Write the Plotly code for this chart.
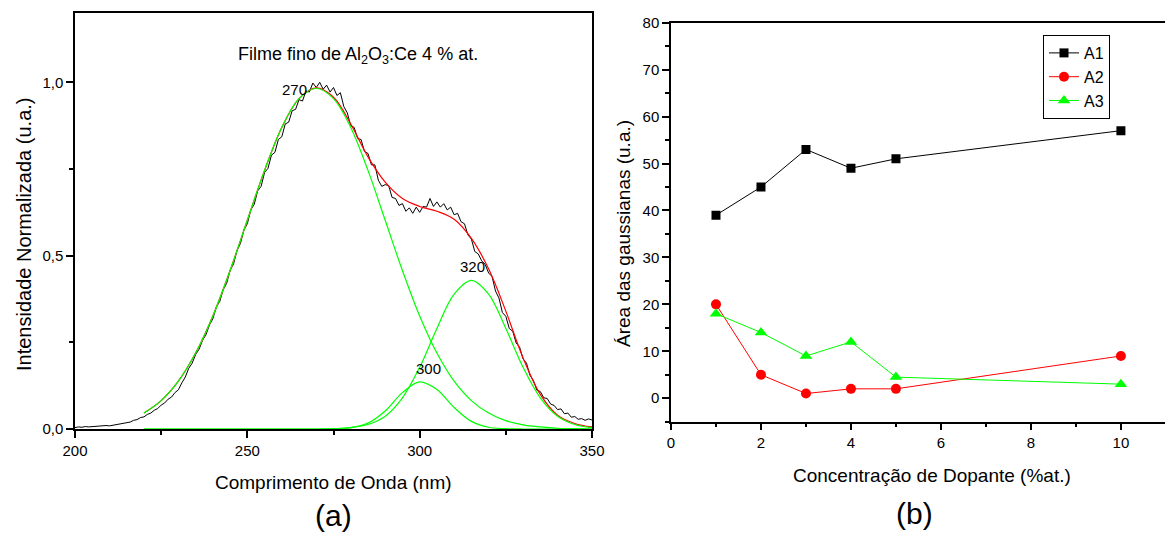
import plotly.graph_objects as go

# ---------------- panel (a): spectrum ----------------
wl_start, wl_step = 200, 1
spectrum = [
    0.004, 0.006, 0.005, 0.007, 0.006, 0.007, 0.008, 0.007, 0.009, 0.010,
    0.009, 0.011, 0.013, 0.013, 0.016, 0.018, 0.020, 0.025, 0.027, 0.033,
    0.035, 0.042, 0.046, 0.054, 0.059, 0.069, 0.075, 0.086, 0.092, 0.105,
    0.113, 0.133, 0.150, 0.175, 0.190, 0.215, 0.230, 0.256, 0.272, 0.300,
    0.318, 0.352, 0.368, 0.402, 0.420, 0.458, 0.476, 0.515, 0.535, 0.574,
    0.592, 0.632, 0.648, 0.687, 0.700, 0.740, 0.752, 0.790, 0.798, 0.835,
    0.843, 0.880, 0.885, 0.918, 0.922, 0.950, 0.946, 0.975, 0.972, 0.998,
    0.985, 1.000, 0.980, 0.992, 0.972, 0.985, 0.962, 0.970, 0.930, 0.912,
    0.875, 0.870, 0.838, 0.835, 0.800, 0.795, 0.762, 0.762, 0.718, 0.700,
    0.705, 0.702, 0.668, 0.665, 0.645, 0.650, 0.628, 0.638, 0.622, 0.640,
    0.625, 0.642, 0.640, 0.665, 0.642, 0.655, 0.640, 0.650, 0.632, 0.640,
    0.618, 0.622, 0.598, 0.592, 0.560, 0.548, 0.512, 0.505, 0.485, 0.475,
    0.450, 0.440, 0.398, 0.378, 0.336, 0.325, 0.290, 0.282, 0.248, 0.236,
    0.202, 0.190, 0.155, 0.140, 0.112, 0.108, 0.090, 0.088, 0.072, 0.068,
    0.056, 0.058, 0.044, 0.046, 0.034, 0.036, 0.028, 0.030, 0.025, 0.029,
    0.026,
]
wavelength = [wl_start + i * wl_step for i in range(len(spectrum))]

fit_wl = [220, 225, 230, 235, 240, 245, 250, 255, 260, 265, 270, 275, 280,
          285, 290, 295, 300, 305, 310, 315, 320, 325, 330, 335, 340, 345, 350]
fit_total = [0.046, 0.082, 0.138, 0.219, 0.326, 0.457, 0.602, 0.746, 0.870,
             0.953, 0.984, 0.957, 0.880, 0.785, 0.712, 0.665, 0.642, 0.628,
             0.605, 0.550, 0.462, 0.340, 0.205, 0.100, 0.040, 0.016, 0.006]
gauss_270 = [0.046, 0.082, 0.138, 0.219, 0.326, 0.457, 0.602, 0.746, 0.870,
             0.953, 0.983, 0.953, 0.870, 0.746, 0.602, 0.457, 0.326, 0.219,
             0.138, 0.082, 0.046, 0.024, 0.012, 0.006, 0.002, 0.001, 0.000]
gauss_300 = [0, 0, 0, 0, 0, 0, 0, 0, 0, 0, 0.000, 0.0005, 0.004, 0.017,
             0.052, 0.105, 0.136, 0.114, 0.062, 0.022, 0.005, 0.001, 0, 0,
             0, 0, 0]
gauss_320 = [0, 0, 0, 0, 0, 0, 0, 0, 0, 0, 0.000, 0.001, 0.004, 0.013,
             0.037, 0.090, 0.178, 0.290, 0.389, 0.429, 0.389, 0.290, 0.178,
             0.090, 0.037, 0.013, 0.004]

# ---------------- panel (b): gaussian areas ----------------
concentration = [1, 2, 3, 4, 5, 10]
area_A1 = [39, 45, 53, 49, 51, 57]
area_A2 = [20, 5, 1, 2, 2, 9]
area_A3 = [18, 14, 9, 12, 4.5, 3]

W, H = 1165, 533
FONT = "Arial, Liberation Sans, sans-serif"
GREEN = "#00ff00"
RED = "#ff0000"

fig = go.Figure()

# panel (a)
fig.add_trace(go.Scatter(x=wavelength, y=spectrum, mode="lines",
                         line=dict(color="black", width=1),
                         xaxis="x", yaxis="y", showlegend=False))
fig.add_trace(go.Scatter(x=fit_wl, y=fit_total, mode="lines",
                         line=dict(color=RED, width=1.2, shape="spline"),
                         xaxis="x", yaxis="y", showlegend=False))
for g in (gauss_270, gauss_300, gauss_320):
    fig.add_trace(go.Scatter(x=fit_wl, y=g, mode="lines",
                             line=dict(color=GREEN, width=1.2, shape="spline"),
                             xaxis="x", yaxis="y", showlegend=False))

# panel (b)
fig.add_trace(go.Scatter(x=concentration, y=area_A1, mode="lines+markers",
                         name="A1", line=dict(color="black", width=1),
                         marker=dict(symbol="square", size=9, color="black"),
                         xaxis="x2", yaxis="y2"))
fig.add_trace(go.Scatter(x=concentration, y=area_A2, mode="lines+markers",
                         name="A2", line=dict(color=RED, width=1),
                         marker=dict(symbol="circle", size=10, color=RED),
                         xaxis="x2", yaxis="y2"))
fig.add_trace(go.Scatter(x=concentration, y=area_A3, mode="lines+markers",
                         name="A3", line=dict(color=GREEN, width=1),
                         marker=dict(symbol="triangle-up", size=11, color=GREEN),
                         xaxis="x2", yaxis="y2"))


def px_x(p):
    return p / W


def px_y(p):
    return 1 - p / H


tickfont = dict(family=FONT, size=15, color="black")
common = dict(showline=True, linecolor="black", linewidth=1.5, ticks="outside",
              ticklen=7, tickwidth=1.5, tickcolor="black", showgrid=False,
              zeroline=False, tickfont=tickfont, automargin=False)

fig.update_layout(
    template="none",
    width=W, height=H,
    margin=dict(l=0, r=0, t=0, b=0, pad=0, autoexpand=False),
    paper_bgcolor="white", plot_bgcolor="white",
    separators=",.",
    font=dict(family=FONT, color="black"),
    xaxis=dict(domain=[px_x(75), px_x(592)], range=[200, 350], tick0=200,
               dtick=50, mirror=True, anchor="y", layer="below traces",
               minor=dict(dtick=25, tick0=200, ticks="outside", ticklen=4,
                          tickwidth=1.5, tickcolor="black"),
               **common),
    yaxis=dict(domain=[px_y(429), px_y(13)], range=[0, 1.2], tick0=0,
               dtick=0.5, tickformat=".1f", mirror=True, anchor="x",
               minor=dict(dtick=0.25, tick0=0, ticks="outside", ticklen=4,
                          tickwidth=1.5, tickcolor="black"),
               **common),
    xaxis2=dict(domain=[px_x(671), 1.0], range=[0, 10.98], tick0=0, dtick=2,
                mirror=True, anchor="y2",
                minor=dict(dtick=1, tick0=0, ticks="outside", ticklen=4,
                           tickwidth=1.5, tickcolor="black"),
                **common),
    yaxis2=dict(domain=[px_y(421.7), px_y(22.7)], range=[-5, 80], tick0=0,
                dtick=10, anchor="x2",
                minor=dict(dtick=5, tick0=0, ticks="outside", ticklen=4,
                           tickwidth=1.5, tickcolor="black"),
                **common),
    legend=dict(x=px_x(1043), y=px_y(35), xanchor="left", yanchor="top",
                bgcolor="white", bordercolor="black", borderwidth=1,
                tracegroupgap=0,
                font=dict(family=FONT, size=16, color="black")),
)

ann = []


def add_text(text, x, y, size, angle=0):
    ann.append(dict(text=text, x=px_x(x), y=px_y(y), xref="paper",
                    yref="paper", xanchor="center", yanchor="middle",
                    showarrow=False, textangle=angle,
                    font=dict(family=FONT, size=size, color="black")))


add_text("Comprimento de Onda (nm)", 334, 482, 19)
add_text("Intensidade Normalizada (u.a.)", 24, 235, 20, -90)
add_text("(a)", 333, 515, 30)
add_text("Concentração de Dopante (%at.)", 932, 475, 19)
add_text("Área das gaussianas (u.a.)", 624, 234, 19, -90)
add_text("(b)", 914, 513, 30)
add_text("Filme fino de Al<sub>2</sub>O<sub>3</sub>:Ce 4 % at.", 358, 55, 18)
add_text("270", 294.5, 89, 15)
add_text("320", 472.3, 266, 15)
add_text("300", 428.7, 368, 15)
fig.update_layout(annotations=ann)

fig.write_html("out.html", config={"displayModeBar": False},
               post_script="document.body.style.margin='0';")
